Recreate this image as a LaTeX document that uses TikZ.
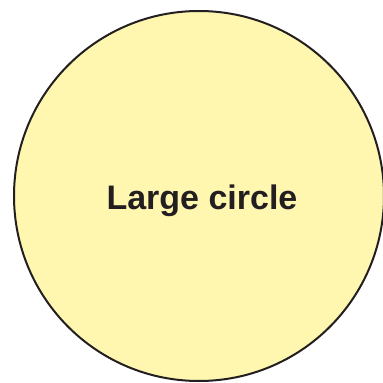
\documentclass[tikz,border=0pt]{standalone}
\usepackage{fontspec}
\setmainfont{Liberation Sans}
\definecolor{circfill}{HTML}{FFF6B0}
\definecolor{inkdark}{HTML}{231F20}
\tikzset{bigcirc/.style={circle, draw=inkdark, fill=circfill, line width=2bp, minimum size=370bp, inner sep=0pt},
  lbl/.style={font=\fontsize{34bp}{40bp}\selectfont\bfseries, text=inkdark}}
\begin{document}
\begin{tikzpicture}[x=1bp,y=1bp]
\useasboundingbox (0,0) rectangle (383,383);
\node[bigcirc] (c) at (199,187) {};
\node[lbl] (t) at (202,182.5) {Large circle};
\end{tikzpicture}
\end{document}
